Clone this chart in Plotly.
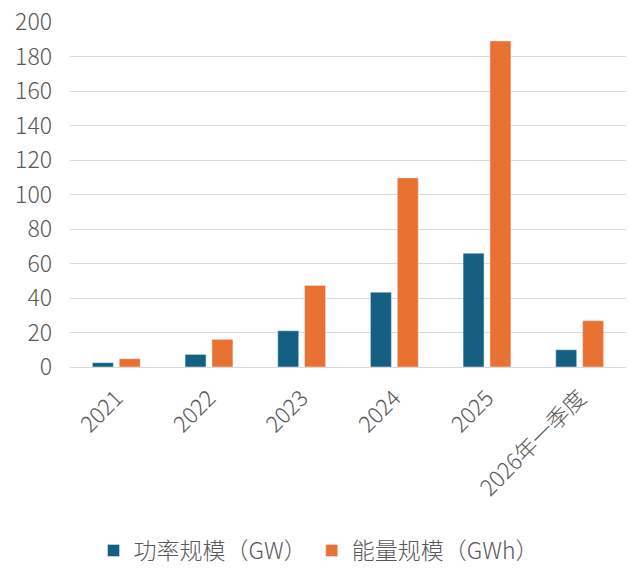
import plotly.graph_objects as go

categories = ["2021", "2022", "2023", "2024", "2025", "2026年一季度"]
power_gw = [2.5, 7.3, 21.0, 43.4, 66.0, 10.0]
energy_gwh = [4.8, 16.0, 47.3, 109.6, 189.0, 26.8]
y_ticks = [0, 20, 40, 60, 80, 100, 120, 140, 160, 180, 200]

font_family = "Noto Sans CJK SC, Noto Sans, sans-serif"
text_color = "#595959"

fig = go.Figure()
fig.add_trace(go.Bar(x=categories, y=power_gw, name="功率规模（GW）",
                     marker=dict(color="#156082")))
fig.add_trace(go.Bar(x=categories, y=energy_gwh, name="能量规模（GWh）",
                     marker=dict(color="#E97132")))

fig.update_layout(
    width=634, height=568,
    margin=dict(l=70, r=8, t=22, b=201, autoexpand=False),
    paper_bgcolor="white", plot_bgcolor="white",
    barmode="group", bargap=0.42, bargroupgap=0.22,
    font=dict(family=font_family, color=text_color, size=22, weight=300),
    showlegend=True,
    legend=dict(orientation="h", x=0.447, xanchor="center", y=-0.532, yanchor="middle",
                font=dict(size=23, color=text_color, weight=300), itemwidth=30,
                traceorder="normal"),
    xaxis=dict(tickangle=-45, tickfont=dict(size=22.5, color=text_color, weight=300),
               showline=True, linecolor="#d9d9d9", linewidth=1, ticks="",
               ticklabelstandoff=8, automargin=False),
    yaxis=dict(range=[0, 200], tickvals=y_ticks, showgrid=True,
               gridcolor="#d9d9d9", gridwidth=1, zeroline=False,
               tickfont=dict(size=23, color=text_color, weight=300), ticks="",
               ticklabelstandoff=17, automargin=False),
)

fig.write_html("out.html")
